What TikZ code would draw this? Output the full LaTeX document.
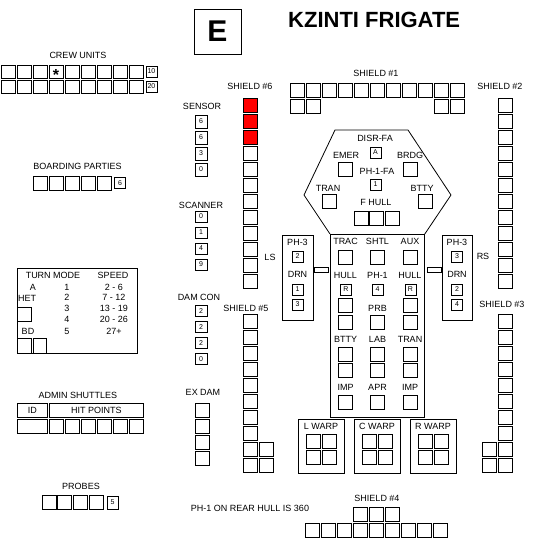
\documentclass[tikz,border=0pt]{standalone}
\usepackage{fontspec}
\setmainfont{Liberation Sans}
\usetikzlibrary{positioning}

\begin{document}
\begin{tikzpicture}[x=1pt, y=-1pt,
  case/.style={draw, line width=0.8pt, minimum width=14pt, minimum height=14pt,
               inner sep=0pt, font=\fontsize{9}{9}\selectfont},
  petite/.style={draw, line width=0.8pt, minimum width=11pt, minimum height=11pt,
                 inner sep=0pt, font=\fontsize{7}{7}\selectfont},
  etiq/.style={inner sep=0pt, font=\fontsize{9}{9}\selectfont},
  cadre/.style={draw, line width=0.8pt, inner sep=0pt}
]
  \fill[white] (0,0) rectangle (536,539);
  \useasboundingbox (0,0) rectangle (536,539);

  %=========================================================
  % 1. Titre
  %=========================================================
  \node[cadre, minimum width=47pt, minimum height=45pt] (logo) at (217.5,31.5)
    {\fontsize{30}{30}\selectfont\bfseries E};
  \node[etiq, anchor=west, font=\fontsize{22}{22}\selectfont\bfseries] (titre)
    at (288,20) {KZINTI FRIGATE};

  %=========================================================
  % 2. Colonne de gauche : equipage, abordage, virage, navettes
  %=========================================================
  \node[etiq] (crew) at (78,55) {CREW UNITS};
  \foreach \i in {0,...,8} {
    \node[case, minimum height=13pt] (c1-\i) at (8+16*\i,71.5) {};
    \node[case, minimum height=13pt] (c2-\i) at (8+16*\i,86.5) {};
  }
  \node[inner sep=0pt, font=\fontsize{16}{16}\selectfont\bfseries]
    at ([yshift=-3pt]c1-3.center) {*};
  \node[petite] (c1-x) at (151.5,71.5) {10};
  \node[petite] (c2-x) at (151.5,86.5) {20};

  \node[etiq] (board) at (77.5,166) {BOARDING PARTIES};
  \foreach \i in {0,...,4}
    \node[case] (b-\i) at (40+16*\i,183) {};
  \node[petite] (b-x) at (120,183) {6};

  % --- table de virage ---
  \node[cadre, minimum width=120pt, minimum height=85pt, anchor=north west]
    (turn) at (17,268) {};
  \node[etiq] (tm) at (53,275) {TURN MODE};
  \node[etiq] (sp) at (113,275) {SPEED};
  \node[etiq] at (33,287) {A};
  \node[etiq, anchor=west] (het) at (18,298) {HET};
  \node[etiq] at (28,331) {BD};
  \foreach \m/\v/\y in {1/2 - 6/287, 2/7 - 12/297.5, 3/13 - 19/308,
                        4/20 - 26/319, 5/27+/331} {
    \node[etiq] at (67,\y) {\m};
    \node[etiq] at (114,\y) {\v};
  }
  \node[case, anchor=north west] (hetbox) at (17,307) {};
  \node[case, anchor=north west, minimum height=15pt] (bd1) at (17,338) {};
  \node[case, anchor=north west, minimum width=13pt, minimum height=15pt]
    (bd2) at (33,338) {};

  % --- navettes et sondes ---
  \node[etiq] (admin) at (78,395) {ADMIN SHUTTLES};
  \node[case, minimum width=30pt, anchor=north west] (id) at (17,403) {ID};
  \node[case, minimum width=94pt, anchor=north west] (hp) at (49,403) {HIT POINTS};
  \node[case, minimum width=30pt, anchor=north west] (idv) at (17,419) {};
  \foreach \i in {0,...,5}
    \node[case, anchor=north west] (hp-\i) at (49+16*\i,419) {};

  \node[etiq] (probes) at (81,486) {PROBES};
  \foreach \i in {0,...,3}
    \node[case] (p-\i) at (49+15.8*\i,502.5) {};
  \node[petite, minimum height=13pt] (p-x) at (112.5,502.5) {5};

  %=========================================================
  % 3. Senseurs, scanners, controle des degats
  %=========================================================
  \node[etiq] (sensor) at (202,106) {SENSOR};
  \foreach \v [count=\i] in {6,6,3,0}
    \node[petite, minimum width=12pt, minimum height=13pt] (sn-\i)
      at (201,105.5+16*\i) {\v};
  \node[etiq] (scanner) at (201,205) {SCANNER};
  \foreach \v [count=\i] in {0,1,4,9}
    \node[petite, minimum width=12pt] (sc-\i) at (201,200.5+16*\i) {\v};
  \node[etiq] (damcon) at (199,297) {DAM CON};
  \foreach \v [count=\i] in {2,2,2,0}
    \node[petite, minimum width=12pt] (dc-\i) at (201,295+16*\i) {\v};
  \node[etiq] (exdam) at (203,392) {EX DAM};
  \foreach \i in {1,...,4}
    \node[case] (ex-\i) at (202,394+16*\i) {};

  %=========================================================
  % 4. Boucliers
  %=========================================================
  \node[etiq] (sh1) at (376,73) {SHIELD \#1};
  \foreach \i in {0,...,10}
    \node[case] (s1-\i) at (297+16*\i,90) {};
  \foreach \i in {0,1,9,10}
    \node[case] (s1b-\i) at (297+16*\i,106) {};

  \node[etiq] (sh6) at (250,86) {SHIELD \#6};
  \node[etiq] (sh2) at (500,86) {SHIELD \#2};
  \foreach \i in {0,1,2}
    \node[case, fill=red] (s6-\i) at (250,105+16*\i) {};
  \foreach \i in {3,...,11}
    \node[case] (s6-\i) at (250,105+16*\i) {};
  \foreach \i in {0,...,11}
    \node[case] (s2-\i) at (505,105+16*\i) {};

  \node[etiq] (sh5) at (246,308) {SHIELD \#5};
  \node[etiq] (sh3) at (502,304) {SHIELD \#3};
  \foreach \i in {0,...,9} {
    \node[case] (s5-\i) at (250,321+16*\i) {};
    \node[case] (s3-\i) at (505,321+16*\i) {};
  }
  \foreach \i in {8,9} {
    \node[case] (s5x-\i) at (266,321+16*\i) {};
    \node[case] (s3x-\i) at (489,321+16*\i) {};
  }

  \node[etiq] (sh4) at (377,498) {SHIELD \#4};
  \foreach \i in {0,1,2}
    \node[case] (s4a-\i) at (360+16*\i,514.5) {};
  \foreach \i in {0,...,8}
    \node[case] (s4-\i) at (312+16*\i,530.5) {};
  \node[etiq] (note) at (250,508) {PH-1 ON REAR HULL IS 360};

  %=========================================================
  % 5. Coque : avant hexagonal, centre, ailes et moteurs
  %=========================================================
  \node[cadre, minimum width=94pt, minimum height=183pt, anchor=north west]
    (coque) at (330,234) {};
  \draw[line width=0.8pt] (coque.north west) -- (304,195) -- (335,130)
    -- (408,130) -- (451,195) -- (coque.north east);

  % --- avant ---
  \node[etiq] (disr) at (375,138) {DISR-FA};
  \node[petite] (disr-b) at (375.5,152.5) {A};
  \node[etiq] (emer) at (346,155) {EMER};
  \node[etiq] (brdg) at (410,155) {BRDG};
  \node[case] (emer-b) at (345.5,169.5) {};
  \node[case] (brdg-b) at (410.5,169.5) {};
  \node[etiq] (ph1fa) at (377,171) {PH-1-FA};
  \node[petite] (ph1fa-b) at (375.5,184.5) {1};
  \node[etiq] (tranf) at (328,188) {TRAN};
  \node[etiq] (bttyf) at (422,188) {BTTY};
  \node[case] (tranf-b) at (329.5,201) {};
  \node[case] (bttyf-b) at (425.5,201) {};
  \node[etiq] (fhull) at (376,202) {F HULL};
  \foreach \i in {0,1,2}
    \node[case] (fh-\i) at (361+15.5*\i,218) {};

  % --- centre ---
  \foreach \x/\a/\b/\c/\d in {345.5/TRAC/HULL/BTTY/IMP, 377.5/SHTL/PH-1/LAB/APR,
                              410/AUX/HULL/TRAN/IMP} {
    \node[etiq] at (\x,241) {\a};
    \node[case] at (\x,257) {};
    \node[etiq] at (\x,275) {\b};
    \node[case] at (\x,322) {};
    \node[etiq] at (\x,339) {\c};
    \node[case] at (\x,354.5) {};
    \node[case] at (\x,370.5) {};
    \node[etiq] at (\x,387) {\d};
    \node[case] at (\x,402.5) {};
  }
  \node[petite] (hl) at (346,289.5) {R};
  \node[petite] (ph1) at (377.5,289.5) {4};
  \node[petite] (hr) at (410.5,289.5) {R};
  \node[case] (hl-b) at (345.5,305.5) {};
  \node[case] (hr-b) at (410,305.5) {};
  \node[etiq] (prb) at (377.5,308) {PRB};

  % --- ailes ---
  \node[cadre, minimum width=31pt, minimum height=85pt, anchor=north west]
    (ailg) at (282,235) {};
  \node[cadre, minimum width=30pt, minimum height=85pt, anchor=north west]
    (aild) at (442,235) {};
  \node[etiq] (ls) at (270,257) {LS};
  \node[etiq] (rs) at (483,256) {RS};
  \foreach \x/\p/\da/\db/\n in {297.5/2/1/3/g, 457/3/2/4/d} {
    \node[etiq] at (\x,242) {PH-3};
    \node[petite] (ph3\n) at (\x,256.5) {\p};
    \node[etiq] at (\x,274) {DRN};
    \node[petite] (drn1\n) at (\x,289.5) {\da};
    \node[petite] (drn2\n) at (\x,304.5) {\db};
  }
  \node[cadre, minimum width=14pt, minimum height=5pt] (lieng) at (321,269.5) {};
  \node[cadre, minimum width=14pt, minimum height=5pt] (liend) at (434,269.5) {};

  % --- moteurs ---
  \foreach \x/\t/\n in {298/L WARP/lw, 354/C WARP/cw, 410/R WARP/rw} {
    \node[cadre, minimum width=46pt, minimum height=54pt, anchor=north west]
      (\n) at (\x,419) {};
    \node[etiq] at (\x+23,426) {\t};
    \foreach \dx in {15,31}
      \foreach \y in {441.5,457.5}
        \node[case] at (\x+\dx,\y) {};
  }

\end{tikzpicture}
\end{document}
